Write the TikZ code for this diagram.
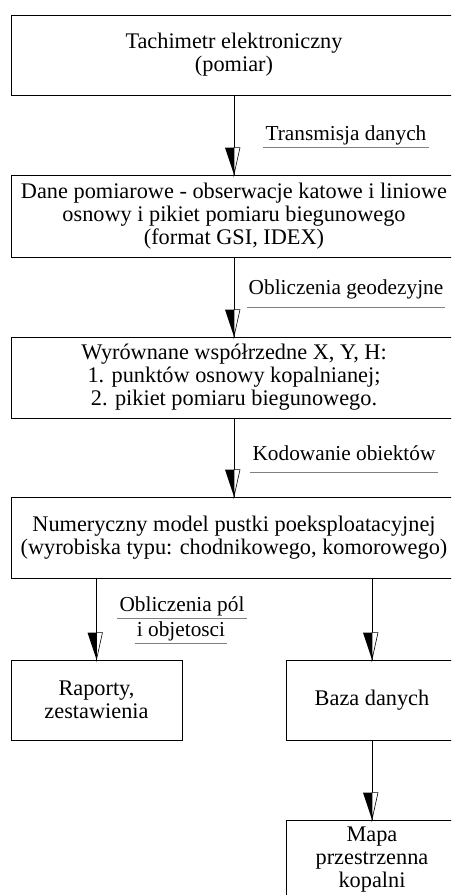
\documentclass[tikz,border=0pt]{standalone}
\usepackage{fontspec}
\setmainfont{Liberation Serif}
\usepackage{tikz}
\usetikzlibrary{positioning,calc,decorations.markings}

\begin{document}
\begin{tikzpicture}[x=1pt, y=-1pt,
  box/.style={draw, line width=0.8pt, minimum width=446pt, minimum height=80pt,
              font=\fontsize{22.3}{23}\selectfont, align=center, inner sep=2pt},
  sbox/.style={box, minimum width=172pt},
  arr/.style={line width=0.8pt, postaction={decorate},
              decoration={markings, mark=at position 1 with {
                \fill[black] (0,0) -- (-27pt,-9pt) -- (-27pt,0pt) -- cycle;
                \draw[fill=white, line width=0.6pt] (0,0) -- (-27pt,0pt) -- (-27pt,6pt) -- cycle;}}},
  lab/.style={font=\fontsize{21.3}{23}\selectfont, anchor=base, inner xsep=2pt,
              inner ysep=2pt, text depth=5pt},
  uline/.style={draw=gray, line width=1.2pt}
]
\useasboundingbox (0,0) rectangle (451,895);
\clip (0,0) rectangle (451,895);

%% main column
\node[box]                     (tach) at (234,55)    {Tachimetr elektroniczny\\(pomiar)};
\node[box, minimum height=82pt] (dane) at (234,216)  {Dane pomiarowe - obserwacje katowe i liniowe\\osnowy i pikiet pomiaru biegunowego\\(format GSI, IDEX)};
\node[box, minimum height=81pt] (wyr)  at (234,377.5) {Wyrównane współrzedne X, Y, H:\\1. punktów osnowy kopalnianej;\\2. pikiet pomiaru biegunowego.};
\node[box, minimum height=81pt] (nmp)  at (234,537.5) {Numeryczny model pustki poeksploatacyjnej\\(wyrobiska typu: chodnikowego, komorowego)};
\draw[arr] (tach.south) -- (dane.north);
\draw[arr] (dane.south) -- (wyr.north);
\draw[arr] (wyr.south) -- (nmp.north);

%% labels
\node[lab]                  (ltr)  at (346,140) {Transmisja danych};
\node[lab, inner ysep=8pt]  (lobl) at (346,294) {Obliczenia geodezyjne};
\node[lab, inner ysep=7pt]  (lkod) at (344,460) {Kodowanie obiektów};
\node[lab]                  (lpol) at (182,611) {Obliczenia pól};
\node[lab]                  (lobj) at (181,636) {i objetosci};
\draw[uline] (ltr.south west) -- (ltr.south east);
\draw[uline] (lobl.south west) -- (lobl.south east);
\draw[uline] (lkod.south west) -- (lkod.south east);
\draw[uline] (lpol.south west) -- (lpol.south east);
\draw[uline] (lobj.south west) -- (lobj.south east);

%% outputs
\node[sbox, minimum width=171pt] (rap)  at (96.5,700) {Raporty,\\zestawienia};
\node[sbox]                      (baza) at (372,700)  {Baza danych};
\node[sbox]                      (mapa) at (372,860)  {Mapa\\przestrzenna\\kopalni};
\draw[arr] (nmp.south -| rap.north) -- (rap.north);
\draw[arr] (nmp.south -| baza.north) -- (baza.north);
\draw[arr] (baza.south) -- (mapa.north);
\end{tikzpicture}
\end{document}
